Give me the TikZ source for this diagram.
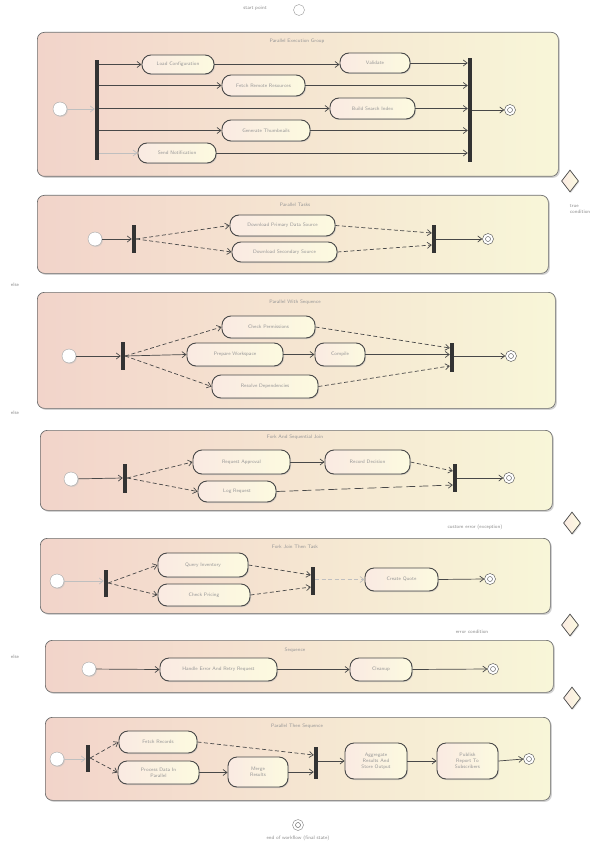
\documentclass[tikz,border=0pt]{standalone}
\usetikzlibrary{arrows.meta,shapes.geometric,shadows,calc}
\definecolor{cpink}{RGB}{242,212,202}
\definecolor{cyel}{RGB}{248,246,216}
\definecolor{apink}{RGB}{250,234,226}
\definecolor{ayel}{RGB}{252,250,224}
\definecolor{lnc}{RGB}{72,72,72}
\definecolor{txc}{RGB}{150,150,150}
\tikzset{
 cont/.style={draw=lnc!80, line width=0.7pt, rounded corners=7pt, left color=cpink, right color=cyel, anchor=north west, inner sep=0pt, drop shadow={shadow xshift=1.5pt, shadow yshift=-1.5pt, fill=black!35}},
 act/.style={draw=lnc, line width=0.9pt, rounded corners=9pt, left color=apink, right color=ayel, font=\sffamily\fontsize{5}{6}\selectfont, text=txc, inner sep=1pt, align=center, drop shadow={shadow xshift=1pt, shadow yshift=-1pt, fill=black!30}},
 bar/.style={fill=black!80, draw=none, minimum width=4pt, inner sep=0pt},
 initst/.style={circle, draw=lnc!50, fill=white, minimum size=14pt, inner sep=0pt, drop shadow={shadow xshift=1pt, shadow yshift=-1pt, fill=black!25}},
 finst/.style={circle, draw=lnc, fill=white, minimum size=11pt, inner sep=0pt, path picture={\draw[lnc] (path picture bounding box.center) circle (2.5pt);}},
 arr/.style={draw=lnc, line width=0.7pt, -{Straight Barb[length=4pt,width=6pt]}},
 larr/.style={arr, draw=black!25},
 darr/.style={arr, dash pattern=on 4pt off 2.5pt},
 ttl/.style={font=\sffamily\fontsize{5}{6}\selectfont, text=txc},
 side/.style={font=\sffamily\fontsize{5}{6}\selectfont, text=black!45, align=left},
 dia/.style={diamond, draw=lnc, line width=0.7pt, left color=apink, right color=ayel, minimum width=17pt, minimum height=22pt, inner sep=0pt, drop shadow={shadow xshift=1pt, shadow yshift=-1pt, fill=black!25}},
}
\begin{document}
\begin{tikzpicture}[x=1pt,y=-1pt]
\useasboundingbox[fill=white] (0,0) rectangle (606,850);
% top start
\node[side] (toptxt) at (255,8) {start point};
\node[circle, draw=black!40, minimum size=11pt, inner sep=0pt] (topst) at (299,10) {};
% ===== Container 1
\node[cont, minimum width=521pt, minimum height=144pt] (c1) at (37,32) {};
\node[ttl] (t1) at (297,41) {Parallel Execution Group};
\node[initst] (i1) at (60,109) {};
\node[bar, minimum height=100pt] (f1) at (97,110) {};
\node[bar, minimum height=104pt] (j1) at (470,110) {};
\node[finst] (e1) at (510,110) {};
\node[act, minimum width=72pt, minimum height=19pt] (A) at (178,64.5) {Load Configuration};
\node[act, minimum width=70pt, minimum height=20pt] (B) at (375,63) {Validate};
\node[act, minimum width=83pt, minimum height=21pt] (C) at (263.5,85.5) {Fetch Remote Resources};
\node[act, minimum width=85pt, minimum height=21pt] (D) at (372.5,108.5) {Build Search Index};
\node[act, minimum width=88pt, minimum height=21pt] (E) at (266,130.5) {Generate Thumbnails};
\node[act, minimum width=78pt, minimum height=20pt] (F) at (177,153) {Send Notification};
\draw[larr] (i1) -- (f1.west |- i1.east);
\draw[arr] (f1.east |- A.west) -- (A.west);
\draw[arr] (A.east) -- (B.west |- A.east);
\draw[arr] (B.east) -- (j1.west |- B.east);
\draw[arr] (f1.east |- C.west) -- (C.west);
\draw[arr] (C.east) -- (j1.west |- C.east);
\draw[arr] (f1.east |- D.west) -- (D.west);
\draw[arr] (D.east) -- (j1.west |- D.east);
\draw[arr] (f1.east |- E.west) -- (E.west);
\draw[arr] (E.east) -- (j1.west |- E.east);
\draw[larr] (f1.east |- F.west) -- (F.west);
\draw[arr] (F.east) -- (j1.west |- F.east);
\draw[arr] (j1.east |- e1.west) -- (e1.west);
% diamond 1
\node[dia] (d1) at (570,181) {};
\node[side] (s1) at (580,209) {true\\condition};
% ===== Container 2
\node[cont, minimum width=511pt, minimum height=78pt] (c2) at (37,195) {};
\node[ttl] (t2) at (295,205) {Parallel Tasks};
\node[initst] (i2) at (95,239) {};
\node[bar, minimum height=28pt] (f2) at (134,239) {};
\node[bar, minimum height=28pt] (j2) at (434,239) {};
\node[finst] (e2) at (488,239) {};
\node[act, minimum width=105pt, minimum height=21pt] (G) at (282.5,225.5) {Download Primary Data Source};
\node[act, minimum width=105pt, minimum height=20pt] (H) at (284.5,252) {Download Secondary Source};
\draw[arr] (i2) -- (f2.west);
\draw[darr] (f2.east) -- (G.west);
\draw[darr] (f2.east) -- (H.west);
\draw[darr] (G.east) -- ($(j2.west)+(0,-6)$);
\draw[darr] (H.east) -- ($(j2.west)+(0,6)$);
\draw[arr] (j2.east) -- (e2.west);
\node[side] (s2) at (15,285) {else};
% ===== Container 3
\node[cont, minimum width=518pt, minimum height=116pt] (c3) at (37,292) {};
\node[ttl] (t3) at (295,302) {Parallel With Sequence};
\node[initst] (i3) at (69,356) {};
\node[bar, minimum height=28pt] (f3) at (123,356) {};
\node[bar, minimum height=29pt] (j3) at (452,357) {};
\node[finst] (e3) at (511,356) {};
\node[act, minimum width=93pt, minimum height=22pt] (I) at (268.5,327) {Check Permissions};
\node[act, minimum width=96pt, minimum height=23pt] (J) at (235,354.5) {Prepare Workspace};
\node[act, minimum width=50pt, minimum height=23pt] (K) at (340,354.5) {Compile};
\node[act, minimum width=106pt, minimum height=23pt] (L) at (265,386.5) {Resolve Dependencies};
\draw[arr] (i3) -- (f3.west);
\draw[darr] (f3.east) -- (I.west);
\draw[arr] (f3.east) -- (J.west);
\draw[arr] (J.east) -- (K.west);
\draw[arr] (K.east) -- (j3.west |- K.east);
\draw[darr] (f3.east) -- (L.west);
\draw[darr] (I.east) -- ($(j3.west)+(0,-9)$);
\draw[darr] (L.east) -- ($(j3.west)+(0,9)$);
\draw[arr] (j3.east |- e3.west) -- (e3.west);
\node[side] (s3) at (15,413) {else};
% ===== Container 4
\node[cont, minimum width=512pt, minimum height=80pt] (c4) at (40,430) {};
\node[ttl] (t4) at (295,437) {Fork And Sequential Join};
\node[initst] (i4) at (71,479) {};
\node[bar, minimum height=29pt] (f4) at (125,478) {};
\node[bar, minimum height=28pt] (j4) at (455,478) {};
\node[finst] (e4) at (509,478) {};
\node[act, minimum width=97pt, minimum height=24pt] (M) at (241.5,462) {Request Approval};
\node[act, minimum width=85pt, minimum height=24pt] (N) at (367.5,462) {Record Decision};
\node[act, minimum width=78pt, minimum height=21pt] (O) at (237,491.5) {Log Request};
\draw[arr] (i4) -- (f4.west);
\draw[darr] (f4.east) -- (M.west);
\draw[arr] (M.east) -- (N.west);
\draw[darr] (N.east) -- ($(j4.west)+(0,-7)$);
\draw[darr] (f4.east) -- (O.west);
\draw[arr, dash pattern=on 9pt off 4pt] (O.east) -- ($(j4.west)+(0,7)$);
\draw[arr] (j4.east) -- (e4.west);
\node[dia] (d2) at (572,523) {};
\node[side] (s4) at (475,527) {custom error (exception)};
% ===== Container 5
\node[cont, minimum width=510pt, minimum height=75pt] (c5) at (40,538) {};
\node[ttl] (t5) at (295,547) {Fork Join Then Task};
\node[initst] (i5) at (57,581) {};
\node[bar, minimum height=27pt] (f5) at (106,583) {};
\node[bar, minimum height=28pt] (j5) at (313,581) {};
\node[finst] (e5) at (490,579) {};
\node[act, minimum width=90pt, minimum height=24pt] (P) at (203,565) {Query Inventory};
\node[act, minimum width=92pt, minimum height=22pt] (Q) at (204,595) {Check Pricing};
\node[act, minimum width=73pt, minimum height=23pt] (R) at (401.5,579.5) {Create Quote};
\draw[larr] (i5) -- (f5.west |- i5.east);
\draw[darr] (f5.east) -- (P.west);
\draw[darr] (f5.east) -- (Q.west);
\draw[darr] (P.east) -- ($(j5.west)+(0,-6)$);
\draw[darr] (Q.east) -- ($(j5.west)+(0,6)$);
\draw[larr, dash pattern=on 4pt off 2.5pt] (j5.east |- R.west) -- (R.west);
\draw[arr] (R.east) -- (e5.west);
\node[dia] (d3) at (570,625) {};
\node[side] (s5) at (472,632) {error condition};
% ===== Container 6
\node[cont, minimum width=508pt, minimum height=52pt] (c6) at (45,640) {};
\node[ttl] (t6) at (295,650) {Sequence};
\node[initst] (i6) at (89,669) {};
\node[act, minimum width=117pt, minimum height=23pt] (S) at (218.5,669.5) {Handle Error And Retry Request};
\node[act, minimum width=62pt, minimum height=23pt] (T) at (381,669.5) {Cleanup};
\node[finst] (e6) at (493,669) {};
\draw[arr] (i6) -- (S.west);
\draw[arr] (S.east) -- (T.west);
\draw[arr] (T.east) -- (e6.west);
\node[side] (s6) at (15,657) {else};
\node[dia] (d4) at (572,698) {};
% ===== Container 7
\node[cont, minimum width=505pt, minimum height=83pt] (c7) at (45,717) {};
\node[ttl] (t7) at (297,726) {Parallel Then Sequence};
\node[initst] (i7) at (57,759) {};
\node[bar, minimum height=27pt] (f7) at (88,758) {};
\node[bar, minimum height=32pt] (j7) at (316,763) {};
\node[finst] (e7) at (529,759) {};
\node[act, minimum width=78pt, minimum height=22pt] (U) at (158,742) {Fetch Records};
\node[act, minimum width=81pt, minimum height=23pt] (V) at (158.5,772.5) {Process Data In\\Parallel};
\node[act, minimum width=60pt, minimum height=30pt] (W) at (258,772) {Merge\\Results};
\node[act, minimum width=62pt, minimum height=36pt] (X) at (376,761) {Aggregate\\Results And\\Store Output};
\node[act, minimum width=61pt, minimum height=36pt] (Y) at (467.5,761) {Publish\\Report To\\Subscribers};
\draw[larr] (i7) -- (f7.west |- i7.east);
\draw[darr] (f7.east) -- (U.west);
\draw[darr] (f7.east) -- (V.west);
\draw[darr] (U.east) -- ($(j7.west)+(0,-8)$);
\draw[arr] (V.east) -- (W.west |- V.east);
\draw[arr] (W.east) -- (j7.west |- W.east);
\draw[arr] (j7.east |- X.west) -- (X.west);
\draw[arr] (X.east) -- (Y.west);
\draw[arr] (Y.east) -- (e7.west);
% bottom final
\node[finst, draw=lnc!70] (bend) at (298,825) {};
\node[side] (btxt) at (298,838) {end of workflow (final state)};
\end{tikzpicture}
\end{document}
